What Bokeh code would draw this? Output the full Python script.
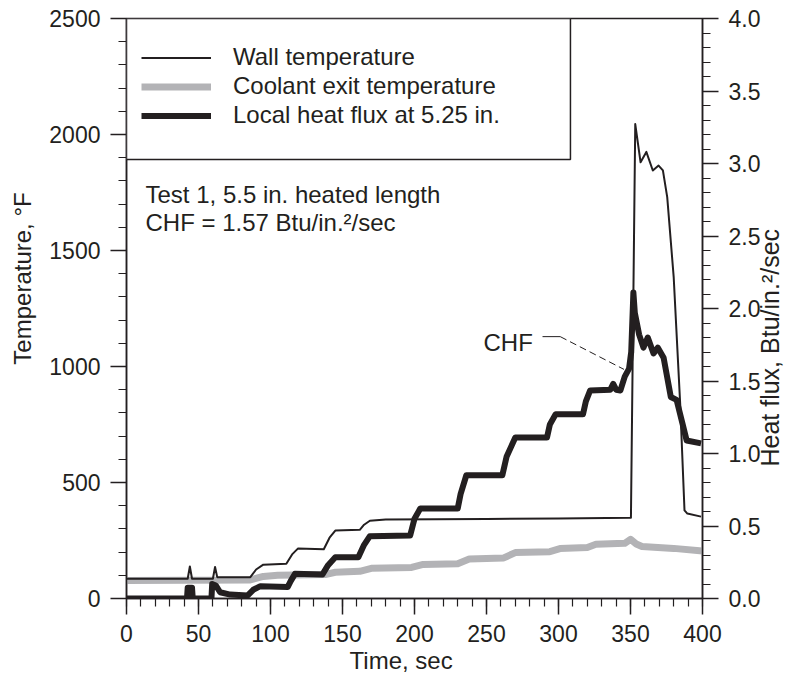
import math
from bokeh.plotting import figure
from bokeh.models import (Range1d, LinearAxis, SingleIntervalTicker, NumeralTickFormatter,
                          Label, Legend, LegendItem, BoxAnnotation)
from bokeh.embed import file_html
from bokeh.resources import INLINE

FONT = "Liberation Sans"
INK = "#231f20"
GRAY = "#b3b3b6"
FS = "23px"
FS_TXT = "24px"
NB = "\u00a0"

# ---- data ----
wall_time = [0, 42.5, 44, 45.5, 60, 61.5, 63, 86, 90, 95, 111, 115, 119, 137, 141, 145,
             162, 165, 169, 180, 250, 300, 350.3, 353.3, 357, 361, 365.5, 369.5, 372.5,
             375.5, 380, 384.5, 387.5, 389.5, 399]
wall_temp = [85, 85, 138, 85, 85, 136, 92, 92, 125, 146, 150, 190, 215, 212, 262, 293,
             296, 318, 335, 340, 343, 345, 348, 2045, 1880, 1925, 1845, 1866, 1845,
             1730, 1385, 840, 380, 366, 353]

coolant_time = [0, 86, 95, 105, 138, 145, 162, 170, 198, 206, 230, 238, 262, 270, 294,
                301, 320, 326, 346, 350, 354, 358, 380, 400]
coolant_temp = [78, 80, 95, 100, 103, 113, 117, 130, 134, 147, 150, 170, 175, 198, 202,
                215, 220, 234, 238, 255, 235, 224, 216, 205]

flux_time = [0, 42, 42.5, 45.5, 46, 59, 59.5, 62, 65, 72, 84, 88, 93, 112, 114, 117,
             136, 140, 145, 161, 165, 169, 197, 200, 204, 230, 232, 236, 261, 264, 270,
             292, 294, 298, 317, 319, 322, 336, 338, 340, 343, 346, 349, 350.5, 352, 353,
             356, 359, 362, 366, 369, 373, 378, 382, 386, 389, 399]
flux_value = [0.0, 0.0, 0.075, 0.075, 0.0, 0.0, 0.10, 0.09, 0.043, 0.027, 0.02, 0.06,
              0.085, 0.08, 0.12, 0.17, 0.165, 0.23, 0.285, 0.285, 0.37, 0.43, 0.435,
              0.55, 0.62, 0.62, 0.72, 0.85, 0.85, 0.98, 1.11, 1.11, 1.2, 1.27, 1.27,
              1.36, 1.435, 1.44, 1.48, 1.44, 1.435, 1.53, 1.585, 1.7, 2.11, 1.97, 1.82,
              1.73, 1.80, 1.69, 1.73, 1.66, 1.39, 1.37, 1.21, 1.09, 1.07]

series_names = ["Wall temperature", "Coolant exit temperature", "Local heat flux at 5.25 in."]
note_lines = ["Test 1, 5.5 in. heated length", "CHF = 1.57 Btu/in.\u00b2/sec"]
chf_point = (345.5, 1.58)   # time, heat flux at CHF

# ---- figure ----
p = figure(width=804, height=680, x_range=Range1d(0, 400), y_range=Range1d(0, 2500),
           output_backend="svg", toolbar_location=None,
           min_border_left=126, min_border_right=102, min_border_top=18, min_border_bottom=82)
p.extra_y_ranges = {"flux": Range1d(0, 4)}
p.xgrid.visible = False
p.ygrid.visible = False
p.outline_line_color = INK
p.outline_line_width = 1.5
p.background_fill_color = "white"
p.border_fill_color = "white"

xax = p.xaxis[0]
yax = p.yaxis[0]
xax.ticker = SingleIntervalTicker(interval=50, num_minor_ticks=5)
yax.ticker = SingleIntervalTicker(interval=500, num_minor_ticks=5)
right = LinearAxis(y_range_name="flux",
                   ticker=SingleIntervalTicker(interval=0.5, num_minor_ticks=5),
                   formatter=NumeralTickFormatter(format="0.0"))
p.add_layout(right, "right")

for ax in [xax, yax, right]:
    ax.axis_line_color = INK
    ax.axis_line_width = 1.5
    ax.major_tick_line_color = INK
    ax.major_tick_line_width = 1.5
    ax.minor_tick_line_color = INK
    ax.minor_tick_line_width = 1.2
    ax.major_tick_out = 16
    ax.major_tick_in = 0
    ax.minor_tick_out = 8
    ax.minor_tick_in = 0
    ax.major_label_text_font = FONT
    ax.major_label_text_font_size = FS
    ax.major_label_text_color = INK
    ax.major_label_standoff = 10
    ax.axis_label_text_font = FONT
    ax.axis_label_text_font_size = FS_TXT
    ax.axis_label_text_font_style = "normal"
    ax.axis_label_text_color = INK

xax.axis_label = "Time, sec" + NB * 4
xax.axis_label_standoff = 2
yax.axis_label = NB * 9 + "Temperature, \u00b0F"
yax.axis_label_standoff = 10

right_title = "Heat flux, Btu/in.\u00b2/sec"
right.axis_label_text_font_size = "25px"
props = right.properties()
done = False
if "axis_label_orientation" in props and "axis_label_align" in props:
    try:
        right.axis_label_orientation = math.pi / 2
        right.axis_label_align = "start"
        right.axis_label = NB * 19 + right_title
        done = True
    except Exception:
        right.axis_label_orientation = "parallel"
if not done:
    right.axis_label = NB * 12 + right_title
right.axis_label_standoff = 7

coolant = p.line(coolant_time, coolant_temp, line_color=GRAY, line_width=7, line_join="round")
wall = p.line(wall_time, wall_temp, line_color=INK, line_width=2, line_join="round")
flux = p.line(flux_time, flux_value, line_color=INK, line_width=6, line_join="round",
              y_range_name="flux")

# legend frame
p.add_layout(BoxAnnotation(left=0, right=308.3, top=2500, bottom=1892,
                           fill_color="white", fill_alpha=1.0,
                           line_color=INK, line_width=1.5, line_alpha=1.0))

legend = Legend(items=[LegendItem(label=series_names[0], renderers=[wall]),
                       LegendItem(label=series_names[1], renderers=[coolant]),
                       LegendItem(label=series_names[2], renderers=[flux])],
                location=(1, 454.5), margin=0, padding=14, spacing=0,
                label_height=29, glyph_height=29, glyph_width=70, label_standoff=22,
                label_text_font=FONT, label_text_font_size=FS_TXT, label_text_color=INK,
                border_line_alpha=0, background_fill_alpha=0)
p.add_layout(legend)

# notes
p.add_layout(Label(x=13.2, y=1741, text=note_lines[0], text_font=FONT, text_font_size=FS_TXT,
                   text_color=INK, text_baseline="alphabetic"))
p.add_layout(Label(x=13.2, y=1621, text=note_lines[1], text_font=FONT, text_font_size=FS_TXT,
                   text_color=INK, text_baseline="alphabetic"))

# CHF call-out
p.add_layout(Label(x=247.9, y=1.765, y_range_name="flux", text="CHF", text_font=FONT,
                   text_font_size=FS_TXT, text_color=INK, text_baseline="alphabetic"))
p.line([288.9, 301.2], [1.806, 1.806], y_range_name="flux", line_color=INK, line_width=1)
p.line([301.2, chf_point[0]], [1.806, chf_point[1]], y_range_name="flux", line_color=INK,
       line_width=1, line_dash="7 4")

open("out.html", "w").write(file_html(p, INLINE))
